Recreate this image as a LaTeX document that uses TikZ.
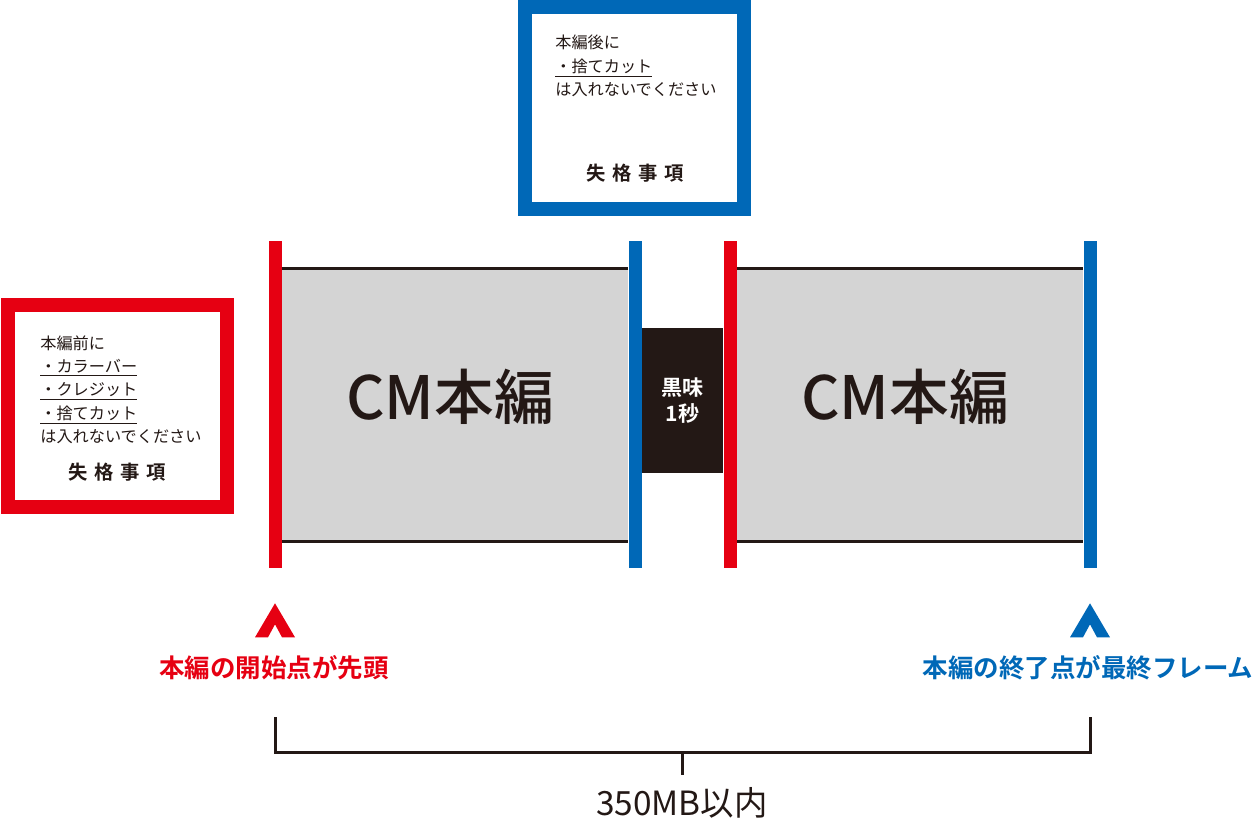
\documentclass[tikz,border=0pt]{standalone}
\usepackage{fontspec}
\setmainfont{Noto Sans CJK JP}[BoldFont={Noto Sans CJK JP Bold}]
\newfontfamily\cmfont{Noto Sans CJK JP Medium}
\usetikzlibrary{positioning}
\definecolor{cmred}{RGB}{230,0,18}
\definecolor{cmblue}{RGB}{0,104,183}
\definecolor{cmgray}{RGB}{212,212,212}
\definecolor{cmblack}{RGB}{35,24,21}
\tikzstyle{notebox} = [draw, line width=0.28cm, fill=white, minimum width=4.4cm, minimum height=4.05cm]
\tikzstyle{cmblock} = [fill=cmgray, minimum width=6.92cm, minimum height=5.44cm, inner sep=0pt]
\tikzstyle{cmtext} = [text=cmblack, font=\cmfont\fontsize{34}{40}\selectfont]
\tikzstyle{edge} = [minimum width=0.26cm, minimum height=6.54cm, inner sep=0pt]
\tikzstyle{note} = [anchor=north west, align=left, inner sep=0pt, text=cmblack, font=\fontsize{9.2}{13.3}\selectfont]
\tikzstyle{fail} = [inner sep=0pt, text=cmblack, font=\bfseries\fontsize{11}{13}\selectfont]
\tikzstyle{caption} = [inner sep=0pt, font=\bfseries\fontsize{14.5}{17}\selectfont]
\tikzstyle{rule} = [draw=cmblack, line width=0.06cm]
\newcommand{\upmark}[2]{\fill[#1] (#2) -- ++(20,34) -- ++(-13,0) -- ++(-7,-13) -- ++(-7,13) -- ++(-13,0) -- cycle;}
\newcommand{\failtext}{失\hspace{0.35em}格\hspace{0.35em}事\hspace{0.35em}項}

\begin{document}
\begin{tikzpicture}[x=0.02cm, y=-0.02cm, node distance=1cm]
    \useasboundingbox (0,0) rectangle (1259,821);

    % Notes
    \node [notebox, draw=cmred] (before) at (117.5,406) {};
    \node [note] (beforetext) at (40,335) {本編前に\\\underline{・カラーバー}\\\underline{・クレジット}\\\underline{・捨てカット}\\は入れないでください};
    \node [fail] (beforefail) at (117,472) {\failtext};

    \node [notebox, draw=cmblue] (after) at (634.5,108) {};
    \node [note] (aftertext) at (555,35) {本編後に\\\underline{・捨てカット}\\は入れないでください};
    \node [fail] (afterfail) at (635,173) {\failtext};

    % Placing the blocks
    \node [cmblock] (cm1) at (455,405) {};
    \node [cmblock] (cm2) at (910,405) {};
    \node [cmtext] at (450,397) {CM本編};
    \node [cmtext] at (905,397) {CM本編};
    \node [fill=cmblack, minimum width=1.62cm, minimum height=2.9cm, inner sep=0pt] (black) at (682.5,400.5) {};
    \node [text=white, align=center, font=\bfseries\fontsize{12}{14.5}\selectfont] at (black) {黒味\\1秒};

    \draw [rule] (cm1.north west) -- (cm1.north east);
    \draw [rule] (cm1.south west) -- (cm1.south east);
    \draw [rule] (cm2.north west) -- (cm2.north east);
    \draw [rule] (cm2.south west) -- (cm2.south east);

    \node [edge, fill=cmred] (start1) at (275,404.5) {};
    \node [edge, fill=cmblue] (end1) at (635,404.5) {};
    \node [edge, fill=cmred] (start2) at (730,404.5) {};
    \node [edge, fill=cmblue] (end2) at (1090,404.5) {};

    % Start and end marks
    \path (start1.south) ++(0,35) coordinate (starttip);
    \path (end2.south) ++(0,35) coordinate (endtip);
    \upmark{cmred}{starttip}
    \upmark{cmblue}{endtip}
    \node [caption, text=cmred] (startlabel) at (274,668) {本編の開始点が先頭};
    \node [caption, text=cmblue] (endlabel) at (1088,668) {本編の終了点が最終フレーム};

    % Size bracket
    \coordinate (bracetop) at (0,717);
    \coordinate (bracebase) at (0,752);
    \coordinate (tick) at (682,752);
    \node [text=cmblack, font=\fontsize{19}{21}\selectfont] (size) at (682,803) {350MB以内};
    \draw [rule] (start1 |- bracetop) -- (start1 |- bracebase) -- (end2 |- bracebase) -- (end2 |- bracetop);
    \draw [rule] (tick) -- ++(0,23);
\end{tikzpicture}
\end{document}
